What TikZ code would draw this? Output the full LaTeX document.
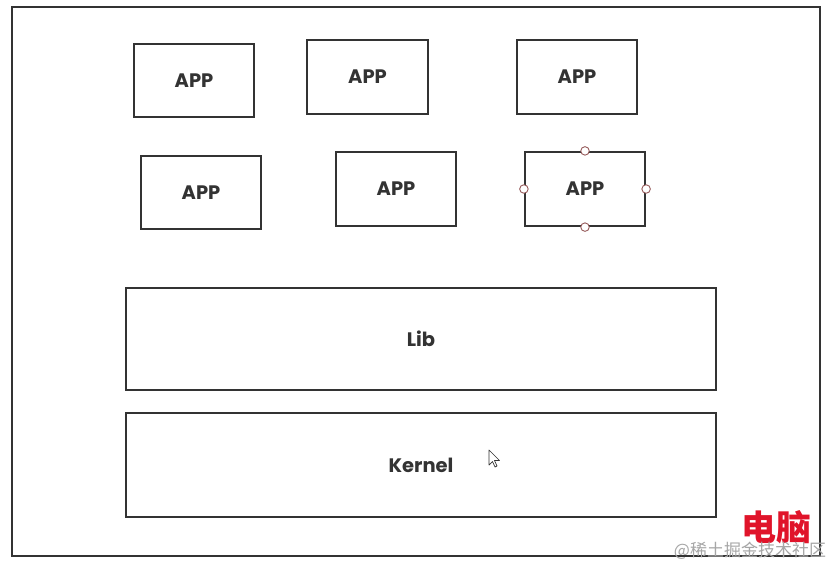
\documentclass[tikz,border=0pt]{standalone}
\usepackage{fontspec}
\setsansfont{Poppins}
\newfontfamily\cjk{Noto Sans CJK SC}
\definecolor{edge}{HTML}{333333}
\definecolor{wm}{HTML}{E0142A}
\begin{document}
\begin{tikzpicture}[x=1pt,y=-1pt,
  box/.style={draw=edge,line width=2.2pt,fill=white,inner sep=0pt,font=\sffamily\bfseries\fontsize{19.5}{22}\selectfont,text=edge},
  handle/.style={circle,draw={rgb,255:red,150;green,90;blue,90},fill=white,line width=0.9pt,minimum size=8.5pt,inner sep=0pt}]
\useasboundingbox (0,0) rectangle (834,568);
\fill[white] (0,0) rectangle (834,568);
\draw[edge,line width=2.2pt] (12,7) rectangle (820,556);
\node[box,minimum width=120pt,minimum height=73pt] (a1) at (194,80.5) {APP};
\node[box,minimum width=121pt,minimum height=74pt] (a2) at (367.5,77) {APP};
\node[box,minimum width=120pt,minimum height=74pt] (a3) at (577,77) {APP};
\node[box,minimum width=120pt,minimum height=73pt] (a4) at (201,192.5) {APP};
\node[box,minimum width=120pt,minimum height=74pt] (a5) at (396,189) {APP};
\node[box,minimum width=120pt,minimum height=74pt] (a6) at (585,189) {APP};
\node[box,minimum width=590pt,minimum height=102pt] (lib) at (421,339) {Lib};
\node[box,minimum width=590pt,minimum height=104pt] (ker) at (421,465) {Kernel};
\node[handle] (h1) at (a6.north) {};
\node[handle] (h2) at (a6.south) {};
\node[handle] (h3) at (a6.west) {};
\node[handle] (h4) at (a6.east) {};
% mouse cursor
\draw[fill=white,draw=edge,line width=0.7pt,line join=round]
  (489,450) -- (489,465) -- (492.5,461.5) -- (495,467) -- (497,466) -- (494.5,460.5) -- (499.5,460.5) -- cycle;
\node[font=\cjk\bfseries\fontsize{35}{38}\selectfont,text=wm,anchor=center] (wm1) at (776,527) {电脑};
\node[font=\cjk\fontsize{17}{19}\selectfont,text=black!35,anchor=center] (wm2) at (750,551) {@稀土掘金技术社区};
\end{tikzpicture}
\end{document}
